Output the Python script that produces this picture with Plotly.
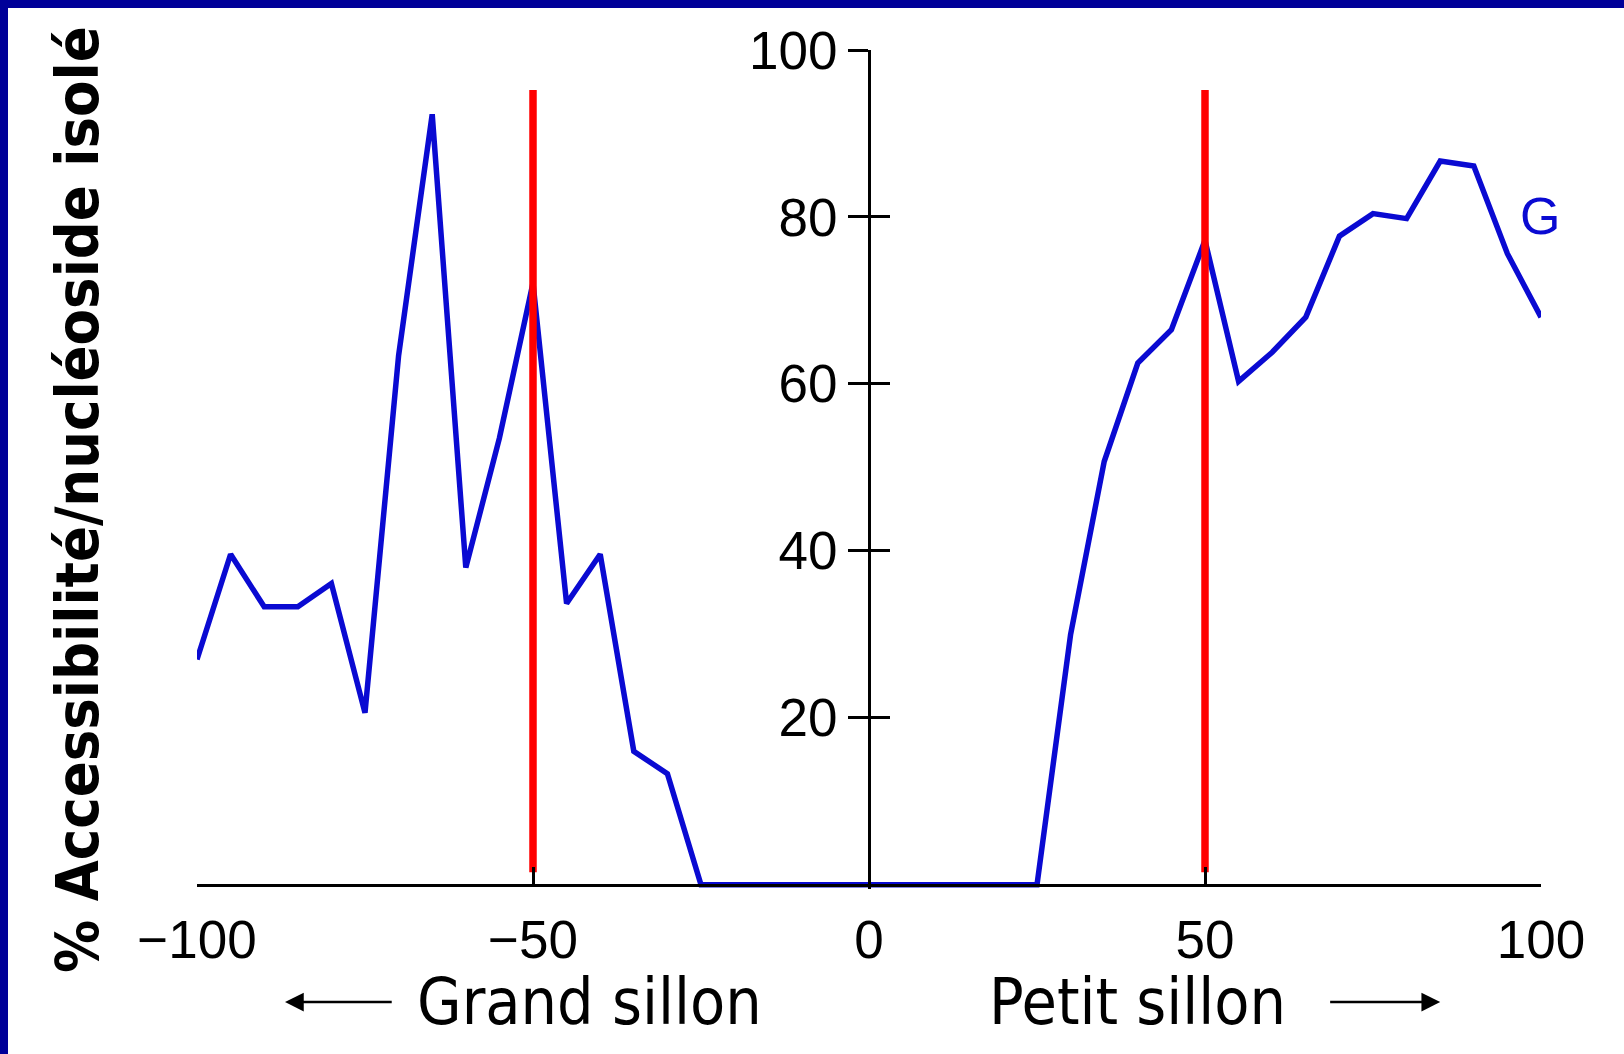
import plotly.graph_objects as go

# ---------------- data ----------------
positions = [-100, -95, -90, -85, -80, -75, -70, -65, -60, -55, -50, -45, -40, -35, -30,
             -25, -20, -15, -10, -5, 0, 5, 10, 15, 20, 25,
             30, 35, 40, 45, 50, 55, 60, 65, 70, 75, 80, 85, 90, 95, 100]
accessibility = [27.0, 39.6, 33.3, 33.3, 36.1, 20.6, 63.4, 92.3, 38.0, 53.5, 72.1, 33.7, 39.6, 16.0, 13.3,
                 0, 0, 0, 0, 0, 0, 0, 0, 0, 0, 0,
                 30.0, 50.7, 62.5, 66.5, 77.2, 60.3, 63.8, 68.0, 77.7, 80.4, 79.8, 86.7, 86.1, 75.6, 68.0]
marker_positions = [-50, 50]
marker_top = 95.2
marker_bottom = 1.5
x_tickvals = [-100, -50, 0, 50, 100]
x_ticktext = ["\u2212100", "\u221250", "0", "50", "100"]
y_tickvals = [20, 40, 60, 80, 100]
y_title = "% Accessibilité/nucléoside isolé"
left_label = "Grand sillon"
right_label = "Petit sillon"
series_label = "G"

# ---------------- layout geometry ----------------
W, H = 1624, 1054
ML, MR, MT, MB = 197, 83, 50, 165
PW, PH = W - ML - MR, H - MT - MB
YR = [-0.5, 100]


def px_to_paper_x(px):
    return (px - ML) / PW


def px_to_paper_y(py):
    return (H - MB - py) / PH


blue = "#0a0ad2"
navy = "#000099"

red_x, red_y = [], []
for xv in marker_positions:
    red_x += [xv, xv, None]
    red_y += [marker_bottom, marker_top, None]

fig = go.Figure()
fig.add_trace(go.Scatter(x=positions, y=accessibility, mode="lines",
                         line=dict(color=blue, width=5.5), hoverinfo="skip", showlegend=False))
fig.add_trace(go.Scatter(x=red_x, y=red_y, mode="lines", yaxis="y2",
                         line=dict(color="#ff0000", width=7.5), hoverinfo="skip", showlegend=False))

tickfont = dict(family="Liberation Sans, Arial, sans-serif", size=53, color="black")
label_font = dict(family="DejaVu Sans Condensed, DejaVu Sans, sans-serif", size=64, color="black")

fig.update_layout(
    width=W, height=H,
    margin=dict(l=ML, r=MR, t=MT, b=MB, pad=0),
    paper_bgcolor="white", plot_bgcolor="white",
    showlegend=False,
    xaxis=dict(range=[-100, 100], tickvals=x_tickvals, ticktext=x_ticktext,
               ticks="inside", ticklen=17, tickwidth=3, tickcolor="black",
               showline=True, linewidth=3, linecolor="black",
               showgrid=False, zeroline=False, anchor="free",
               position=(0 - YR[0]) / (YR[1] - YR[0]),
               ticklabelstandoff=8,
               tickfont=tickfont, fixedrange=True),
    yaxis=dict(range=YR, tickvals=y_tickvals, ticks="outside", ticklen=20, tickwidth=3,
               tickcolor="black", showline=True, linewidth=3, linecolor="black",
               showgrid=False, zeroline=False, anchor="free", position=0.5,
               tickfont=tickfont, fixedrange=True),
    yaxis2=dict(range=YR, tickvals=y_tickvals, ticks="inside", ticklen=20, tickwidth=3,
                tickcolor="black", showline=False, showgrid=False, zeroline=False,
                showticklabels=False, overlaying="y", anchor="free", position=0.5,
                fixedrange=True),
)

# frame strips (top and left) of the slide
fig.add_shape(type="rect", xref="paper", yref="paper",
              x0=px_to_paper_x(0), x1=px_to_paper_x(W), y0=px_to_paper_y(8), y1=px_to_paper_y(0),
              fillcolor=navy, line=dict(width=0), layer="above")
fig.add_shape(type="rect", xref="paper", yref="paper",
              x0=px_to_paper_x(0), x1=px_to_paper_x(8), y0=px_to_paper_y(H), y1=px_to_paper_y(0),
              fillcolor=navy, line=dict(width=0), layer="above")

# y-axis title
fig.add_annotation(text="<b>" + y_title + "</b>", xref="paper", yref="paper",
                   x=px_to_paper_x(77), y=px_to_paper_y(500), textangle=-90,
                   showarrow=False, xanchor="center", yanchor="middle",
                   font=dict(family="DejaVu Sans Condensed, DejaVu Sans, sans-serif", size=59, color="black"))

# groove labels
label_y = px_to_paper_y(1002)
fig.add_annotation(text=left_label, xref="x", yref="paper", x=-67.6, y=label_y,
                   xanchor="left", yanchor="middle", showarrow=False, font=label_font)
fig.add_annotation(text=right_label, xref="x", yref="paper", x=17.6, y=label_y,
                   xanchor="left", yanchor="middle", showarrow=False, font=label_font)
# direction arrows
fig.add_annotation(text="", xref="x", yref="paper", x=-86.9, y=label_y,
                   axref="x", ayref="pixel", ax=-70.8, ay=0,
                   showarrow=True, arrowhead=2, arrowsize=1.5, arrowwidth=2.5, arrowcolor="black")
fig.add_annotation(text="", xref="x", yref="paper", x=85.0, y=label_y,
                   axref="x", ayref="pixel", ax=68.4, ay=0,
                   showarrow=True, arrowhead=2, arrowsize=1.5, arrowwidth=2.5, arrowcolor="black")

# series label
fig.add_annotation(text=series_label, xref="x", yref="y", x=99.9, y=80.1,
                   xanchor="center", yanchor="middle", showarrow=False,
                   font=dict(family="Liberation Sans, Arial, sans-serif", size=52, color=blue))

fig.write_html("out.html", config={"displayModeBar": False},
               post_script="document.body.style.margin='0px';document.body.style.overflow='hidden';")
